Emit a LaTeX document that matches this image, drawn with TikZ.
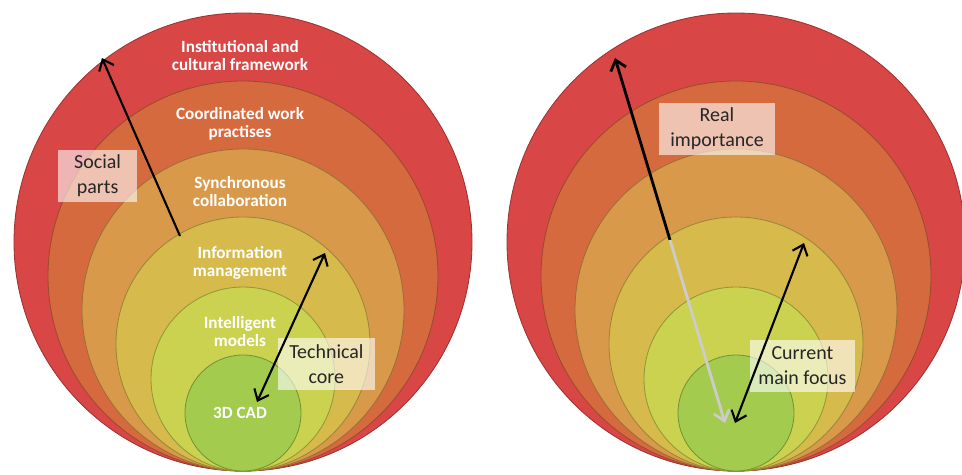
\documentclass[tikz,border=0pt]{standalone}
\usepackage{fontspec}
\setmainfont{Carlito}
\usetikzlibrary{arrows.meta}
\definecolor{ringA}{HTML}{D94646}
\definecolor{ringB}{HTML}{D56A3F}
\definecolor{ringC}{HTML}{D9994A}
\definecolor{ringD}{HTML}{D7BA4C}
\definecolor{ringE}{HTML}{CBD24F}
\definecolor{ringF}{HTML}{A3CB4E}
\begin{document}
\begin{tikzpicture}[
    layerring/.style={draw=#1!72!black, line width=0.6pt, fill=#1},
    layer/.style={text=white, font=\bfseries\fontsize{12.2}{12.8}\selectfont, align=center},
    labelbox/.style={fill=white, fill opacity=0.6, text opacity=1, text=black!85,
        font=\fontsize{14.2}{17.8}\selectfont, align=center, inner sep=0pt, minimum height=1.3cm},
    arr/.style={line width=1.5pt, -{Straight Barb[length=2.4mm,width=4mm]}},
    dbl/.style={line width=1.5pt, {Straight Barb[length=2.4mm,width=4mm]}-{Straight Barb[length=2.4mm,width=4mm]}}
]
    \useasboundingbox (0,0) rectangle (24.05,11.85);

    % left: layers
    \draw[layerring=ringA] (6.075,5.8) circle (5.725);
    \draw[layerring=ringB] (6.075,4.95) circle (4.875);
    \draw[layerring=ringC] (6.075,4.1) circle (4.025);
    \draw[layerring=ringD] (6.075,3.25) circle (3.175);
    \draw[layerring=ringE] (6.075,2.375) circle (2.3);
    \draw[layerring=ringF] (6.075,1.525) circle (1.45);

    \node[layer] (inst) at (6.0,10.45) {Institutional and\\cultural framework};
    \node[layer] (coord) at (6.0,8.75) {Coordinated work\\practises};
    \node[layer] (sync) at (6.0,7.05) {Synchronous\\collaboration};
    \node[layer] (info) at (6.0,5.275) {Information\\management};
    \node[layer] (intel) at (6.0,3.55) {Intelligent\\models};
    \node[layer] (cad) at (6.0,1.525) {3D CAD};

    \node[labelbox, minimum width=1.975cm] (social) at (2.44,7.45) {Social\\parts};
    \node[labelbox, minimum width=2.425cm] (core) at (8.16,2.75) {Technical\\core};

    \coordinate (socialfrom) at (4.5,5.95);
    \coordinate (socialto) at (2.55,10.4);
    \coordinate (corein) at (6.425,1.8);
    \coordinate (coreout) at (8.125,5.525);
    \draw[arr] (socialfrom) -- (socialto);
    \draw[dbl] (corein) -- (coreout);

    % right: layers
    \draw[layerring=ringA] (18.4,5.8) circle (5.725);
    \draw[layerring=ringB] (18.4,4.95) circle (4.875);
    \draw[layerring=ringC] (18.4,4.1) circle (4.025);
    \draw[layerring=ringD] (18.4,3.25) circle (3.175);
    \draw[layerring=ringE] (18.4,2.375) circle (2.3);
    \draw[layerring=ringF] (18.4,1.525) circle (1.45);

    \node[labelbox, minimum width=2.9cm] (real) at (17.925,8.625) {Real\\importance};
    \node[labelbox, minimum width=2.625cm] (focus) at (20.06,2.7) {Current\\main focus};

    \coordinate (realtop) at (15.375,10.4);
    \coordinate (realmid) at (16.75,5.85);
    \coordinate (realbot) at (18.125,1.275);
    \coordinate (focusin) at (18.375,1.275);
    \coordinate (focusout) at (20.1,5.775);
    \draw[arr, line width=2pt] (realmid) -- (realtop);
    \draw[arr, line width=2pt, black!20] (realmid) -- (realbot);
    \draw[dbl] (focusin) -- (focusout);
\end{tikzpicture}
\end{document}
